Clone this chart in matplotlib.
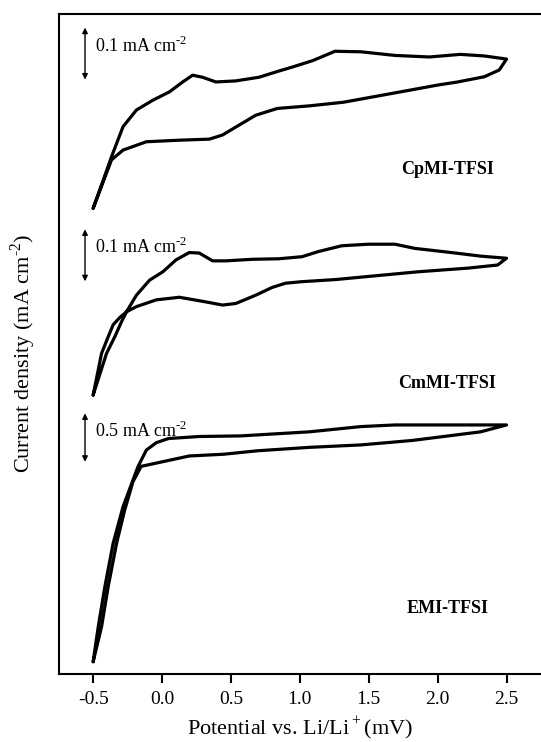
import numpy as np
import matplotlib
matplotlib.use("Agg")
import matplotlib.pyplot as plt

plt.rcParams['font.family'] = ['Liberation Serif', 'DejaVu Serif']
plt.rcParams['mathtext.fontset'] = 'custom'
plt.rcParams['mathtext.rm'] = 'Liberation Serif'

# CpMI-TFSI (current relative to value at -0.5 V, mA cm-2)
cpmi_fwd_v = [-0.5, -0.427, -0.367, -0.283, -0.186, -0.066, 0.054, 0.150, 0.222, 0.294,
              0.391, 0.535, 0.703, 0.836, 0.95, 1.093, 1.255, 1.442, 1.690, 1.940,
              2.164, 2.338, 2.5]
cpmi_fwd_i = [0, 0.054, 0.099, 0.157, 0.189, 0.208, 0.224, 0.243, 0.256, 0.252,
              0.243, 0.245, 0.252, 0.263, 0.272, 0.284, 0.302, 0.301, 0.294, 0.291,
              0.296, 0.293, 0.287]
cpmi_rev_v = [2.5, 2.447, 2.339, 2.146, 2.0, 1.815, 1.566, 1.317, 1.069, 0.836,
              0.680, 0.559, 0.439, 0.343, 0.126, -0.114, -0.283, -0.367, -0.427, -0.5]
cpmi_rev_i = [0.287, 0.266, 0.253, 0.243, 0.237, 0.228, 0.216, 0.204, 0.197, 0.192,
              0.179, 0.160, 0.141, 0.133, 0.131, 0.128, 0.112, 0.093, 0.051, 0]

# CmMI-TFSI
cmmi_fwd_v = [-0.5, -0.403, -0.343, -0.294, -0.258, -0.186, -0.090, 0.006, 0.102, 0.198,
              0.270, 0.367, 0.463, 0.655, 0.848, 1.016, 1.136, 1.304, 1.497, 1.690,
              1.834, 2.098, 2.315, 2.5]
cmmi_fwd_i = [0, 0.080, 0.112, 0.141, 0.160, 0.192, 0.221, 0.237, 0.260, 0.274,
              0.273, 0.258, 0.258, 0.261, 0.262, 0.266, 0.276, 0.287, 0.290, 0.290,
              0.282, 0.274, 0.267, 0.263]
cmmi_rev_v = [2.5, 2.435, 2.219, 1.858, 1.618, 1.257, 1.016, 0.896, 0.80, 0.680,
              0.535, 0.439, 0.319, 0.126, -0.042, -0.186, -0.258, -0.307, -0.355, -0.391,
              -0.439, -0.5]
cmmi_rev_i = [0.263, 0.250, 0.244, 0.237, 0.231, 0.222, 0.218, 0.215, 0.207, 0.192,
              0.176, 0.173, 0.179, 0.188, 0.183, 0.170, 0.160, 0.149, 0.135, 0.112,
              0.080, 0]

# EMI-TFSI
emi_fwd_v = [-0.5, -0.463, -0.415, -0.355, -0.283, -0.211, -0.175, -0.114, -0.042, 0.047,
             0.271, 0.570, 1.069, 1.442, 1.690, 2.064, 2.5]
emi_fwd_i = [0, 0.361, 0.773, 1.221, 1.598, 1.873, 2.010, 2.182, 2.258, 2.301,
             2.322, 2.328, 2.370, 2.424, 2.441, 2.441, 2.441]
emi_rev_v = [2.5, 2.312, 1.815, 1.442, 1.069, 0.695, 0.446, 0.197, -0.152, -0.211,
             -0.271, -0.330, -0.391, -0.439, -0.5]
emi_rev_i = [2.441, 2.370, 2.281, 2.235, 2.210, 2.175, 2.139, 2.121, 2.014, 1.856,
             1.564, 1.221, 0.773, 0.361, 0]

names = ["CpMI-TFSI", "CmMI-TFSI", "EMI-TFSI"]
bar_labels = ["0.1 mA cm$^{\u20102}$", "0.1 mA cm$^{\u20102}$", "0.5 mA cm$^{\u20102}$"]
bar_values = [0.1, 0.1, 0.5]

# stacking: vertical offset and scale (plot units per mA cm-2)
offsets = [465.7, 279.0, 12.3]
scales = [520, 520, 97]
bar_tops = [646.4, 444.7, 260.7]
name_y = [505, 291, 66]

curves = [
    (cpmi_fwd_v, cpmi_fwd_i, cpmi_rev_v, cpmi_rev_i),
    (cmmi_fwd_v, cmmi_fwd_i, cmmi_rev_v, cmmi_rev_i),
    (emi_fwd_v, emi_fwd_i, emi_rev_v, emi_rev_i),
]

fig = plt.figure(figsize=(5.41, 7.42), dpi=100)
ax = fig.add_axes([0.1085, 0.0916, 0.8915, 0.8898])

for k, (fv, fi, rv, ri) in enumerate(curves):
    v = np.concatenate([fv, rv])
    i = np.concatenate([fi, ri])
    ax.plot(v, offsets[k] + scales[k] * i, color="black", lw=2.3,
            solid_joinstyle="round", solid_capstyle="round")
    top = bar_tops[k]
    ax.annotate("", xy=(-0.559, top), xytext=(-0.559, top - bar_values[k] * scales[k]),
                arrowprops=dict(arrowstyle="<|-|>", color="black", lw=1.0,
                                mutation_scale=8, shrinkA=0, shrinkB=0))
    ax.text(-0.487, top - 8, bar_labels[k], fontsize=13, va="top", ha="left")
    ax.text(2.07, name_y[k], names[k], fontsize=13, fontweight="bold",
            ha="center", va="center")

ax.set_xlim(-0.75, 2.75)
ax.set_ylim(0, 660.2)
ax.set_xticks([-0.5, 0.0, 0.5, 1.0, 1.5, 2.0, 2.5])
ax.set_xticklabels(["-0.5", "0.0", "0.5", "1.0", "1.5", "2.0", "2.5"])
ax.set_yticks([])
ax.tick_params(axis="x", direction="out", length=6.5, width=1.5, labelsize=14, pad=6)
for s in ["left", "bottom", "top"]:
    ax.spines[s].set_linewidth(1.5)
ax.spines["right"].set_visible(False)

ax.set_xlabel("Potential vs. Li/Li$^+$(mV)", fontsize=16, labelpad=4)
ax.set_ylabel("Current density (mA cm$^{\u20102}$)", fontsize=16)
ax.yaxis.set_label_coords(-0.042, 0.485)

fig.savefig("out.png", dpi=100)
